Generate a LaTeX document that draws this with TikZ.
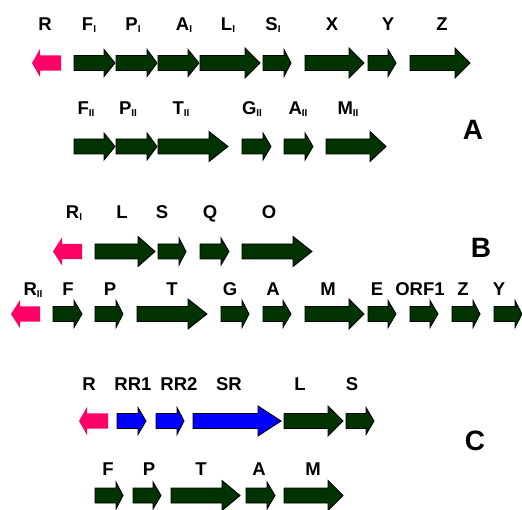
\documentclass[tikz,border=0pt]{standalone}
\usepackage{fontspec}
\setmainfont{Liberation Sans}
\definecolor{genegreen}{HTML}{003300}
\definecolor{genepink}{HTML}{FF0066}
\definecolor{geneblue}{HTML}{0000FF}
\tikzset{
 gene/.style={fill=genegreen, draw=black, line width=0.9pt, line join=miter},
 regblue/.style={fill=geneblue, draw=black, line width=0.9pt, line join=miter},
 regpink/.style={fill=genepink, draw=none},
 lbl/.style={font=\fontsize{18.5}{21}\selectfont\bfseries, anchor=base, inner sep=0pt},
 biglbl/.style={font=\fontsize{28}{32}\selectfont\bfseries, anchor=base, inner sep=0pt},
}
\newcommand\subI[1]{\raisebox{-1.5pt}{\fontsize{10}{11}\selectfont #1}}
% forward gene arrow: style, x1, xb, x2, y, head half-height
\newcommand\fwd[6]{%
 \draw[#1] (#2,#5-7.5) -- (#3,#5-7.5) -- (#3,#5-#6) -- (#4,#5) -- (#3,#5+#6) -- (#3,#5+7.5) -- (#2,#5+7.5) -- cycle;}
% backward (leftward) gene arrow: tip x, base x, right x, y
\newcommand\bwd[4]{%
 \fill[regpink] (#1,#4) -- (#2,#4-14) -- (#2,#4-7.7) -- (#3,#4-7.7) -- (#3,#4+7.7) -- (#2,#4+7.7) -- (#2,#4+14) -- cycle;}
\begin{document}
\begin{tikzpicture}[x=1pt,y=-1pt]
\useasboundingbox (0,0) rectangle (522,510);
% ---------- A, row 1
\bwd{32}{40}{61}{63}
\foreach \a/\b/\c/\h in {74/104/115/13.5,116/147/157/13.5,158/188/199/13.5,200/245/260/15,263/284/291/13.5,305/349/364/15,368/388/396/13.5,410/455/470/15}
 {\fwd{gene}{\a}{\b}{\c}{63}{\h}}
\node[lbl] (a1R) at (45,31) {R};
\node[lbl] (a1F) at (89,31) {F\subI{I}};
\node[lbl] (a1P) at (133,31) {P\subI{I}};
\node[lbl] (a1A) at (184,31) {A\subI{I}};
\node[lbl] (a1L) at (228,31) {L\subI{I}};
\node[lbl] (a1S) at (273,31) {S\subI{I}};
\node[lbl] (a1X) at (332,31) {X};
\node[lbl] (a1Y) at (388,31) {Y};
\node[lbl] (a1Z) at (442,31) {Z};
% ---------- A, row 2
\foreach \a/\b/\c/\h in {74/104/115/13.5,116/147/157/13.5,158/209/228/15,242/263/271/13.5,284/305/313/13.5,326/370/386/15}
 {\fwd{gene}{\a}{\b}{\c}{146.5}{\h}}
\node[lbl] (a2F) at (86,115) {F\subI{II}};
\node[lbl] (a2P) at (128,115) {P\subI{II}};
\node[lbl] (a2T) at (181,115) {T\subI{II}};
\node[lbl] (a2G) at (252,115) {G\subI{II}};
\node[lbl] (a2A) at (298,115) {A\subI{II}};
\node[lbl] (a2M) at (348,115) {M\subI{II}};
\node[biglbl] (bigA) at (473,140) {A};
% ---------- B, row 3
\bwd{53}{62}{82}{251.5}
\foreach \a/\b/\c/\h in {95/138/155/15,158/179/186/13.5,200/221/229/13.5,242/293/312/15}
 {\fwd{gene}{\a}{\b}{\c}{251.5}{\h}}
\node[lbl] (b1R) at (74,219) {R\subI{I}};
\node[lbl] (b1L) at (122,219) {L};
\node[lbl] (b1S) at (162,219) {S};
\node[lbl] (b1Q) at (210,219) {Q};
\node[lbl] (b1O) at (269,219) {O};
\node[biglbl] (bigB) at (481,258) {B};
% ---------- B, row 4
\bwd{11}{20}{40}{314}
\foreach \a/\b/\c/\h in {53/74/82/13.5,95/116/123/13.5,137/188/207/15,221/242/249/13.5,263/283/291/13.5,305/349/364/15,368/388/396/13.5,410/430/438/13.5,452/473/480/13.5,494/515/522/13.5}
 {\fwd{gene}{\a}{\b}{\c}{314}{\h}}
\node[lbl] (b2R) at (33,296) {R\subI{II}};
\node[lbl] (b2F) at (68,296) {F};
\node[lbl] (b2P) at (110,296) {P};
\node[lbl] (b2T) at (172,296) {T};
\node[lbl] (b2G) at (230,296) {G};
\node[lbl] (b2A) at (273,296) {A};
\node[lbl] (b2M) at (328,296) {M};
\node[lbl] (b2E) at (377,296) {E};
\node[lbl] (b2O) at (420,296) {ORF1};
\node[lbl] (b2Z) at (463,296) {Z};
\node[lbl] (b2Y) at (499,296) {Y};
% ---------- C, row 5
\bwd{79}{87}{108}{421}
\foreach \a/\b/\c/\h in {117/138/146/13.5,156/177/184/13.5,193/258/281/15}
 {\fwd{regblue}{\a}{\b}{\c}{421}{\h}}
\foreach \a/\b/\c/\h in {284/328/343/15,346/366/374/13.5}
 {\fwd{gene}{\a}{\b}{\c}{421}{\h}}
\node[lbl] (c1R) at (89,391) {R};
\node[lbl] (c1RRa) at (133,391) {RR1};
\node[lbl] (c1RRb) at (179,391) {RR2};
\node[lbl] (c1SR) at (229,391) {SR};
\node[lbl] (c1L) at (300,391) {L};
\node[lbl] (c1S) at (352,391) {S};
\node[biglbl] (bigC) at (475,450) {C};
% ---------- C, row 6
\foreach \a/\b/\c/\h in {95/116/123/13.5,133/153/161/13.5,171/222/240/15,246/267/275/13.5,284/328/343/15}
 {\fwd{gene}{\a}{\b}{\c}{495.5}{\h}}
\node[lbl] (c2F) at (108,475) {F};
\node[lbl] (c2P) at (149,475) {P};
\node[lbl] (c2T) at (201,475) {T};
\node[lbl] (c2A) at (259,475) {A};
\node[lbl] (c2M) at (313,475) {M};
\end{tikzpicture}
\end{document}
